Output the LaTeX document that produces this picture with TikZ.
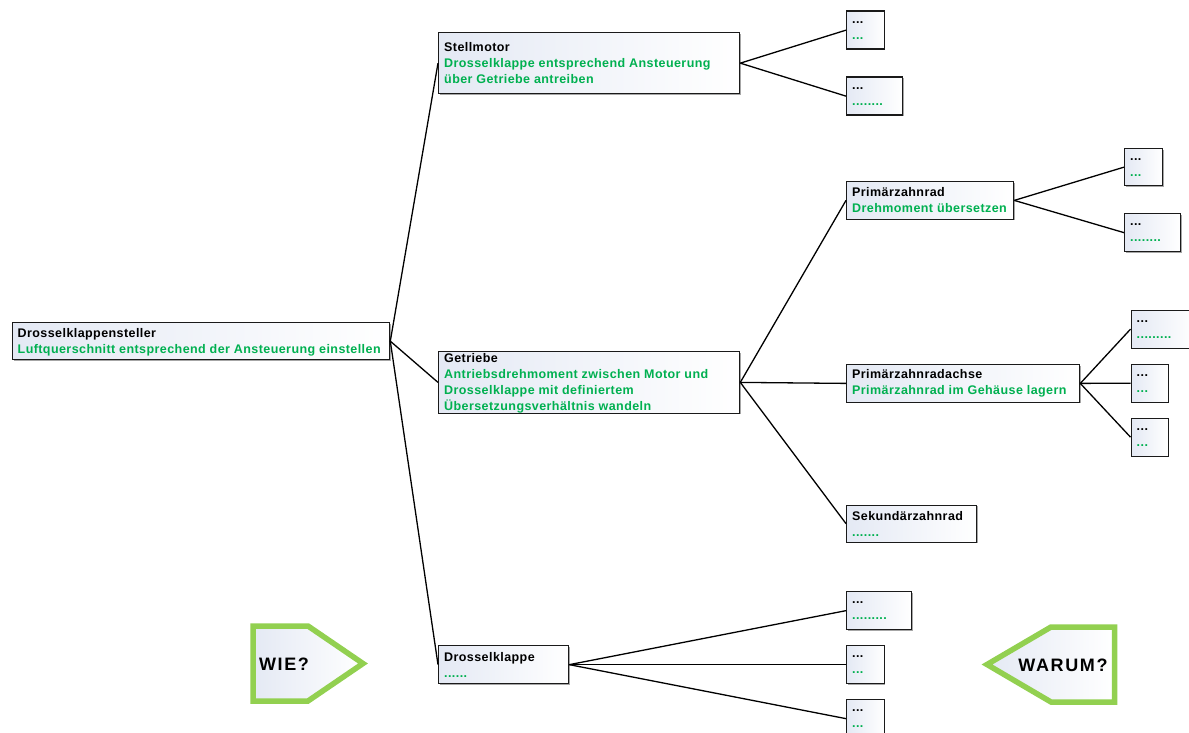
\documentclass[tikz,border=0pt]{standalone}
\usepackage{fontspec}
\usetikzlibrary{shadows}
\newfontfamily\boxfont{Liberation Sans}[LetterSpace=3.4]
\newfontfamily\cuefont{Liberation Sans}[LetterSpace=9]
\definecolor{boxline}{HTML}{1A1A1A}
\definecolor{boxtint}{HTML}{E4E9F4}
\definecolor{fgreen}{HTML}{00B050}
\definecolor{cuegreen}{HTML}{92D050}
\newcommand{\gtxt}[1]{\textcolor{fgreen}{#1}}
\tikzset{
  box/.style={draw=boxline, line width=1.3pt, left color=boxtint, right color=white,
    anchor=north west, inner sep=0pt,
    drop shadow={shadow xshift=0.9pt, shadow yshift=-0.9pt, fill=black, opacity=0.35}},
  lbl/.style={anchor=west, align=left, inner sep=0pt, text=black,
    font=\boxfont\bfseries\fontsize{12.5}{16}\selectfont},
  link/.style={draw=black, line width=1.3pt},
  cue/.style={draw=cuegreen, line width=5.5pt, line join=miter, left color=boxtint, right color=white},
  cuetext/.style={anchor=base, inner sep=0pt, font=\cuefont\bfseries\fontsize{18}{20}\selectfont}
}
\begin{document}
\begin{tikzpicture}[x=1pt, y=-1pt]
\useasboundingbox (0,0) rectangle (1189,733);

% --- boxes ---
\node[box, minimum width=377pt, minimum height=37pt] (root) at (12,322) {};
\node[box, minimum width=301pt, minimum height=61pt] (stell) at (438,32) {};
\node[box, minimum width=301pt, minimum height=61.5pt] (getr) at (438,351) {};
\node[box, minimum width=130pt, minimum height=38pt] (dk) at (438,645) {};

\node[box, minimum width=37.5pt, minimum height=38pt] (s1) at (846,10.5) {};
\node[box, minimum width=56pt, minimum height=38pt] (s2) at (846,76.5) {};

\node[box, minimum width=167pt, minimum height=37.5pt] (pz) at (846,181) {};
\node[box, minimum width=38pt, minimum height=37pt] (pz1) at (1124,148) {};
\node[box, minimum width=56pt, minimum height=38pt] (pz2) at (1124,213) {};

\node[box, minimum width=233pt, minimum height=37.5pt] (pa) at (846,364) {};
\node[box, minimum width=64pt, minimum height=38pt] (pa1) at (1130.5,309.5) {};
\node[box, minimum width=37pt, minimum height=38pt] (pa2) at (1130.5,363.5) {};
\node[box, minimum width=37pt, minimum height=38pt] (pa3) at (1130.5,417.5) {};

\node[box, minimum width=130pt, minimum height=37pt] (sz) at (846,504.5) {};

\node[box, minimum width=65pt, minimum height=38pt] (dk1) at (846,591) {};
\node[box, minimum width=37.5pt, minimum height=38pt] (dk2) at (846,645) {};
\node[box, minimum width=37.5pt, minimum height=38pt] (dk3) at (846,699) {};

% --- connectors ---
\draw[link] (root.east) -- (stell.west);
\draw[link] (root.east) -- (getr.west);
\draw[link] (root.east) -- (dk.west);
\draw[link] (stell.east) -- (s1.west);
\draw[link] (stell.east) -- (s2.west);
\draw[link] (getr.east) -- (pz.west);
\draw[link] (getr.east) -- (pa.west);
\draw[link] (getr.east) -- (sz.west);
\draw[link] (pz.east) -- (pz1.west);
\draw[link] (pz.east) -- (pz2.west);
\draw[link] (pa.east) -- (pa1.west);
\draw[link] (pa.east) -- (pa2.west);
\draw[link] (pa.east) -- (pa3.west);
\draw[link] (dk.east) -- (dk1.west);
\draw[link] (dk.east) -- (dk2.west);
\draw[link] (dk.east) -- (dk3.west);

% --- box texts ---
\node[lbl] (root-t) at ([xshift=5.5pt,yshift=-1pt]root.west) {Drosselklappensteller\\\gtxt{Luftquerschnitt entsprechend der Ansteuerung einstellen}};
\node[lbl] (stell-t) at ([xshift=6pt]stell.west) {Stellmotor\\\gtxt{Drosselklappe entsprechend Ansteuerung}\\\gtxt{über Getriebe antreiben}};
\node[lbl] (getr-t) at ([xshift=6pt,yshift=-1pt]getr.west) {Getriebe\\\gtxt{Antriebsdrehmoment zwischen Motor und}\\\gtxt{Drosselklappe mit definiertem}\\\gtxt{Übersetzungsverhältnis wandeln}};
\node[lbl] (dk-t) at ([xshift=6pt]dk.west) {Drosselklappe\\\gtxt{......}};

\node[lbl] (s1-t) at ([xshift=6pt]s1.west) {...\\\gtxt{...}};
\node[lbl] (s2-t) at ([xshift=6pt]s2.west) {...\\\gtxt{........}};

\node[lbl] (pz-t) at ([xshift=6pt]pz.west) {Primärzahnrad\\\gtxt{Drehmoment übersetzen}};
\node[lbl] (pz1-t) at ([xshift=6pt]pz1.west) {...\\\gtxt{...}};
\node[lbl] (pz2-t) at ([xshift=6pt]pz2.west) {...\\\gtxt{........}};

\node[lbl] (pa-t) at ([xshift=6pt]pa.west) {Primärzahnradachse\\\gtxt{Primärzahnrad im Gehäuse lagern}};
\node[lbl] (pa1-t) at ([xshift=6pt]pa1.west) {...\\\gtxt{.........}};
\node[lbl] (pa2-t) at ([xshift=6pt]pa2.west) {...\\\gtxt{...}};
\node[lbl] (pa3-t) at ([xshift=6pt]pa3.west) {...\\\gtxt{...}};

\node[lbl] (sz-t) at ([xshift=6pt]sz.west) {Sekundärzahnrad\\\gtxt{.......}};

\node[lbl] (dk1-t) at ([xshift=6pt]dk1.west) {...\\\gtxt{.........}};
\node[lbl] (dk2-t) at ([xshift=6pt]dk2.west) {...\\\gtxt{...}};
\node[lbl] (dk3-t) at ([xshift=6pt]dk3.west) {...\\\gtxt{...}};

% --- direction cues ---
\path[cue] (253,626) -- (308,626) -- (363,663.5) -- (308,701) -- (253,701) -- cycle;
\node[cuetext] (wie) at (284,670.7) {WIE?};
\path[cue] (1114.5,627) -- (1051,627) -- (987,664.5) -- (1051,702) -- (1114.5,702) -- cycle;
\node[cuetext] (warum) at (1063,671.7) {WARUM?};
\end{tikzpicture}
\end{document}
